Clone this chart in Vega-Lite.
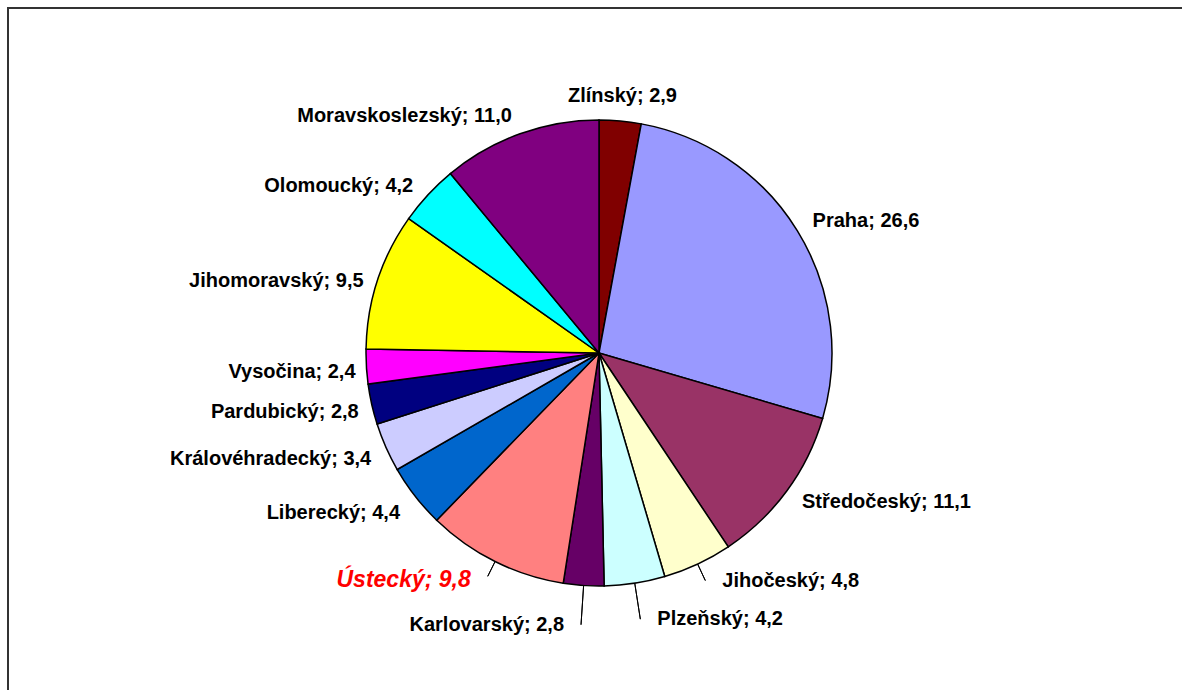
{
  "$schema": "https://vega.github.io/schema/vega-lite/v6.json",
  "width": 1182,
  "height": 690,
  "autosize": {"type": "none"},
  "padding": {"left": 8, "top": 8, "right": -8, "bottom": -8},
  "background": "white",
  "config": {"view": {"stroke": null}},
  "data": {
    "values": [
      {"order": 1, "name": "Zlínský", "value": 2.9},
      {"order": 2, "name": "Praha", "value": 26.6},
      {"order": 3, "name": "Středočeský", "value": 11.1},
      {"order": 4, "name": "Jihočeský", "value": 4.8},
      {"order": 5, "name": "Plzeňský", "value": 4.2},
      {"order": 6, "name": "Karlovarský", "value": 2.8},
      {"order": 7, "name": "Ústecký", "value": 9.8},
      {"order": 8, "name": "Liberecký", "value": 4.4},
      {"order": 9, "name": "Královéhradecký", "value": 3.4},
      {"order": 10, "name": "Pardubický", "value": 2.8},
      {"order": 11, "name": "Vysočina", "value": 2.4},
      {"order": 12, "name": "Jihomoravský", "value": 9.5},
      {"order": 13, "name": "Olomoucký", "value": 4.2},
      {"order": 14, "name": "Moravskoslezský", "value": 11.0}
    ]
  },
  "transform": [
    {"joinaggregate": [{"op": "sum", "field": "value", "as": "total"}]},
    {"window": [{"op": "sum", "field": "value", "as": "cum1"}], "sort": [{"field": "order"}], "frame": [null, 0]},
    {"calculate": "datum.cum1 - datum.value", "as": "cum0"},
    {"calculate": "datum.cum1 - datum.value / 2", "as": "mid"},
    {"calculate": "datum.mid / datum.total * 360", "as": "middeg"},
    {"calculate": "datum.mid / datum.total * 2 * PI", "as": "midrad"},
    {"calculate": "datum.middeg > 140 && datum.middeg < 215", "as": "leader"},
    {"calculate": "243 + 15 * abs(cos(datum.midrad))", "as": "lr"},
    {"calculate": "233 + 40 * pow(abs(cos(datum.midrad)), 8)", "as": "le"},
    {"calculate": "datum.name + '; ' + replace(format(datum.value, '.1f'), '.', ',')", "as": "label"}
  ],
  "layer": [
    {
      "transform": [{"filter": "datum.order == 1"}],
      "mark": {"type": "rect", "fill": null, "stroke": "#333333", "strokeWidth": 2},
      "encoding": {}
    },
    {
      "mark": {"type": "arc", "radius": 233, "stroke": "black", "strokeWidth": 1.5},
      "encoding": {
        "theta": {"field": "cum0", "type": "quantitative", "stack": null, "scale": {"domain": [0, 99.9], "nice": false, "zero": true}},
        "theta2": {"field": "cum1"},
        "color": {
          "field": "name",
          "type": "nominal",
          "legend": null,
          "scale": {
            "domain": ["Zlínský", "Praha", "Středočeský", "Jihočeský", "Plzeňský", "Karlovarský", "Ústecký", "Liberecký", "Královéhradecký", "Pardubický", "Vysočina", "Jihomoravský", "Olomoucký", "Moravskoslezský"],
            "range": ["#800000", "#9999FF", "#993366", "#FFFFCC", "#CCFFFF", "#660066", "#FF8080", "#0066CC", "#CCCCFF", "#000080", "#FF00FF", "#FFFF00", "#00FFFF", "#800080"]
          }
        }
      }
    },
    {
      "transform": [{"filter": "datum.leader"}],
      "mark": {"type": "arc", "radius2": 233, "stroke": "black", "strokeWidth": 1, "fill": null},
      "encoding": {
        "theta": {"field": "mid", "type": "quantitative", "stack": null, "scale": {"domain": [0, 99.9], "nice": false, "zero": true}},
        "theta2": {"field": "mid"},
        "radius": {"field": "le", "type": "quantitative", "scale": null}
      }
    },
    {
      "transform": [{"filter": "!datum.leader && datum.middeg >= 15 && datum.middeg < 180"}],
      "mark": {"type": "text", "align": "left", "baseline": "middle", "font": "Liberation Sans", "fontWeight": "bold", "fontSize": 20, "color": "black"},
      "encoding": {
        "theta": {"field": "mid", "type": "quantitative", "stack": null, "scale": {"domain": [0, 99.9], "nice": false, "zero": true}},
        "radius": {"field": "lr", "type": "quantitative", "scale": null},
        "text": {"field": "label"}
      }
    },
    {
      "transform": [{"filter": "!datum.leader && datum.middeg >= 180 && datum.middeg <= 350"}],
      "mark": {"type": "text", "align": "right", "baseline": "middle", "dy": 5, "font": "Liberation Sans", "fontWeight": "bold", "fontSize": 20, "color": "black"},
      "encoding": {
        "theta": {"field": "mid", "type": "quantitative", "stack": null, "scale": {"domain": [0, 99.9], "nice": false, "zero": true}},
        "radius": {"field": "lr", "type": "quantitative", "scale": null},
        "text": {"field": "label"}
      }
    },
    {
      "transform": [{"filter": "datum.middeg < 15 || datum.middeg > 350"}],
      "mark": {"type": "text", "align": "center", "baseline": "middle", "font": "Liberation Sans", "fontWeight": "bold", "fontSize": 20, "color": "black"},
      "encoding": {
        "theta": {"field": "mid", "type": "quantitative", "stack": null, "scale": {"domain": [0, 99.9], "nice": false, "zero": true}},
        "radius": {"field": "lr", "type": "quantitative", "scale": null},
        "text": {"field": "label"}
      }
    },
    {
      "transform": [{"filter": "datum.leader && datum.middeg < 180"}],
      "mark": {"type": "text", "align": "left", "baseline": "middle", "dx": 17, "font": "Liberation Sans", "fontWeight": "bold", "fontSize": 20, "color": "black"},
      "encoding": {
        "theta": {"field": "mid", "type": "quantitative", "stack": null, "scale": {"domain": [0, 99.9], "nice": false, "zero": true}},
        "radius": {"field": "le", "type": "quantitative", "scale": null},
        "text": {"field": "label"}
      }
    },
    {
      "transform": [{"filter": "datum.leader && datum.middeg >= 180 && datum.name != 'Ústecký'"}],
      "mark": {"type": "text", "align": "right", "baseline": "middle", "dx": -17, "font": "Liberation Sans", "fontWeight": "bold", "fontSize": 20, "color": "black"},
      "encoding": {
        "theta": {"field": "mid", "type": "quantitative", "stack": null, "scale": {"domain": [0, 99.9], "nice": false, "zero": true}},
        "radius": {"field": "le", "type": "quantitative", "scale": null},
        "text": {"field": "label"}
      }
    },
    {
      "transform": [{"filter": "datum.name == 'Ústecký'"}],
      "mark": {"type": "text", "align": "right", "baseline": "middle", "dx": -17, "dy": 4, "font": "Liberation Sans", "fontWeight": "bold", "fontStyle": "italic", "fontSize": 23, "color": "#FF0000"},
      "encoding": {
        "theta": {"field": "mid", "type": "quantitative", "stack": null, "scale": {"domain": [0, 99.9], "nice": false, "zero": true}},
        "radius": {"field": "le", "type": "quantitative", "scale": null},
        "text": {"field": "label"}
      }
    }
  ]
}
